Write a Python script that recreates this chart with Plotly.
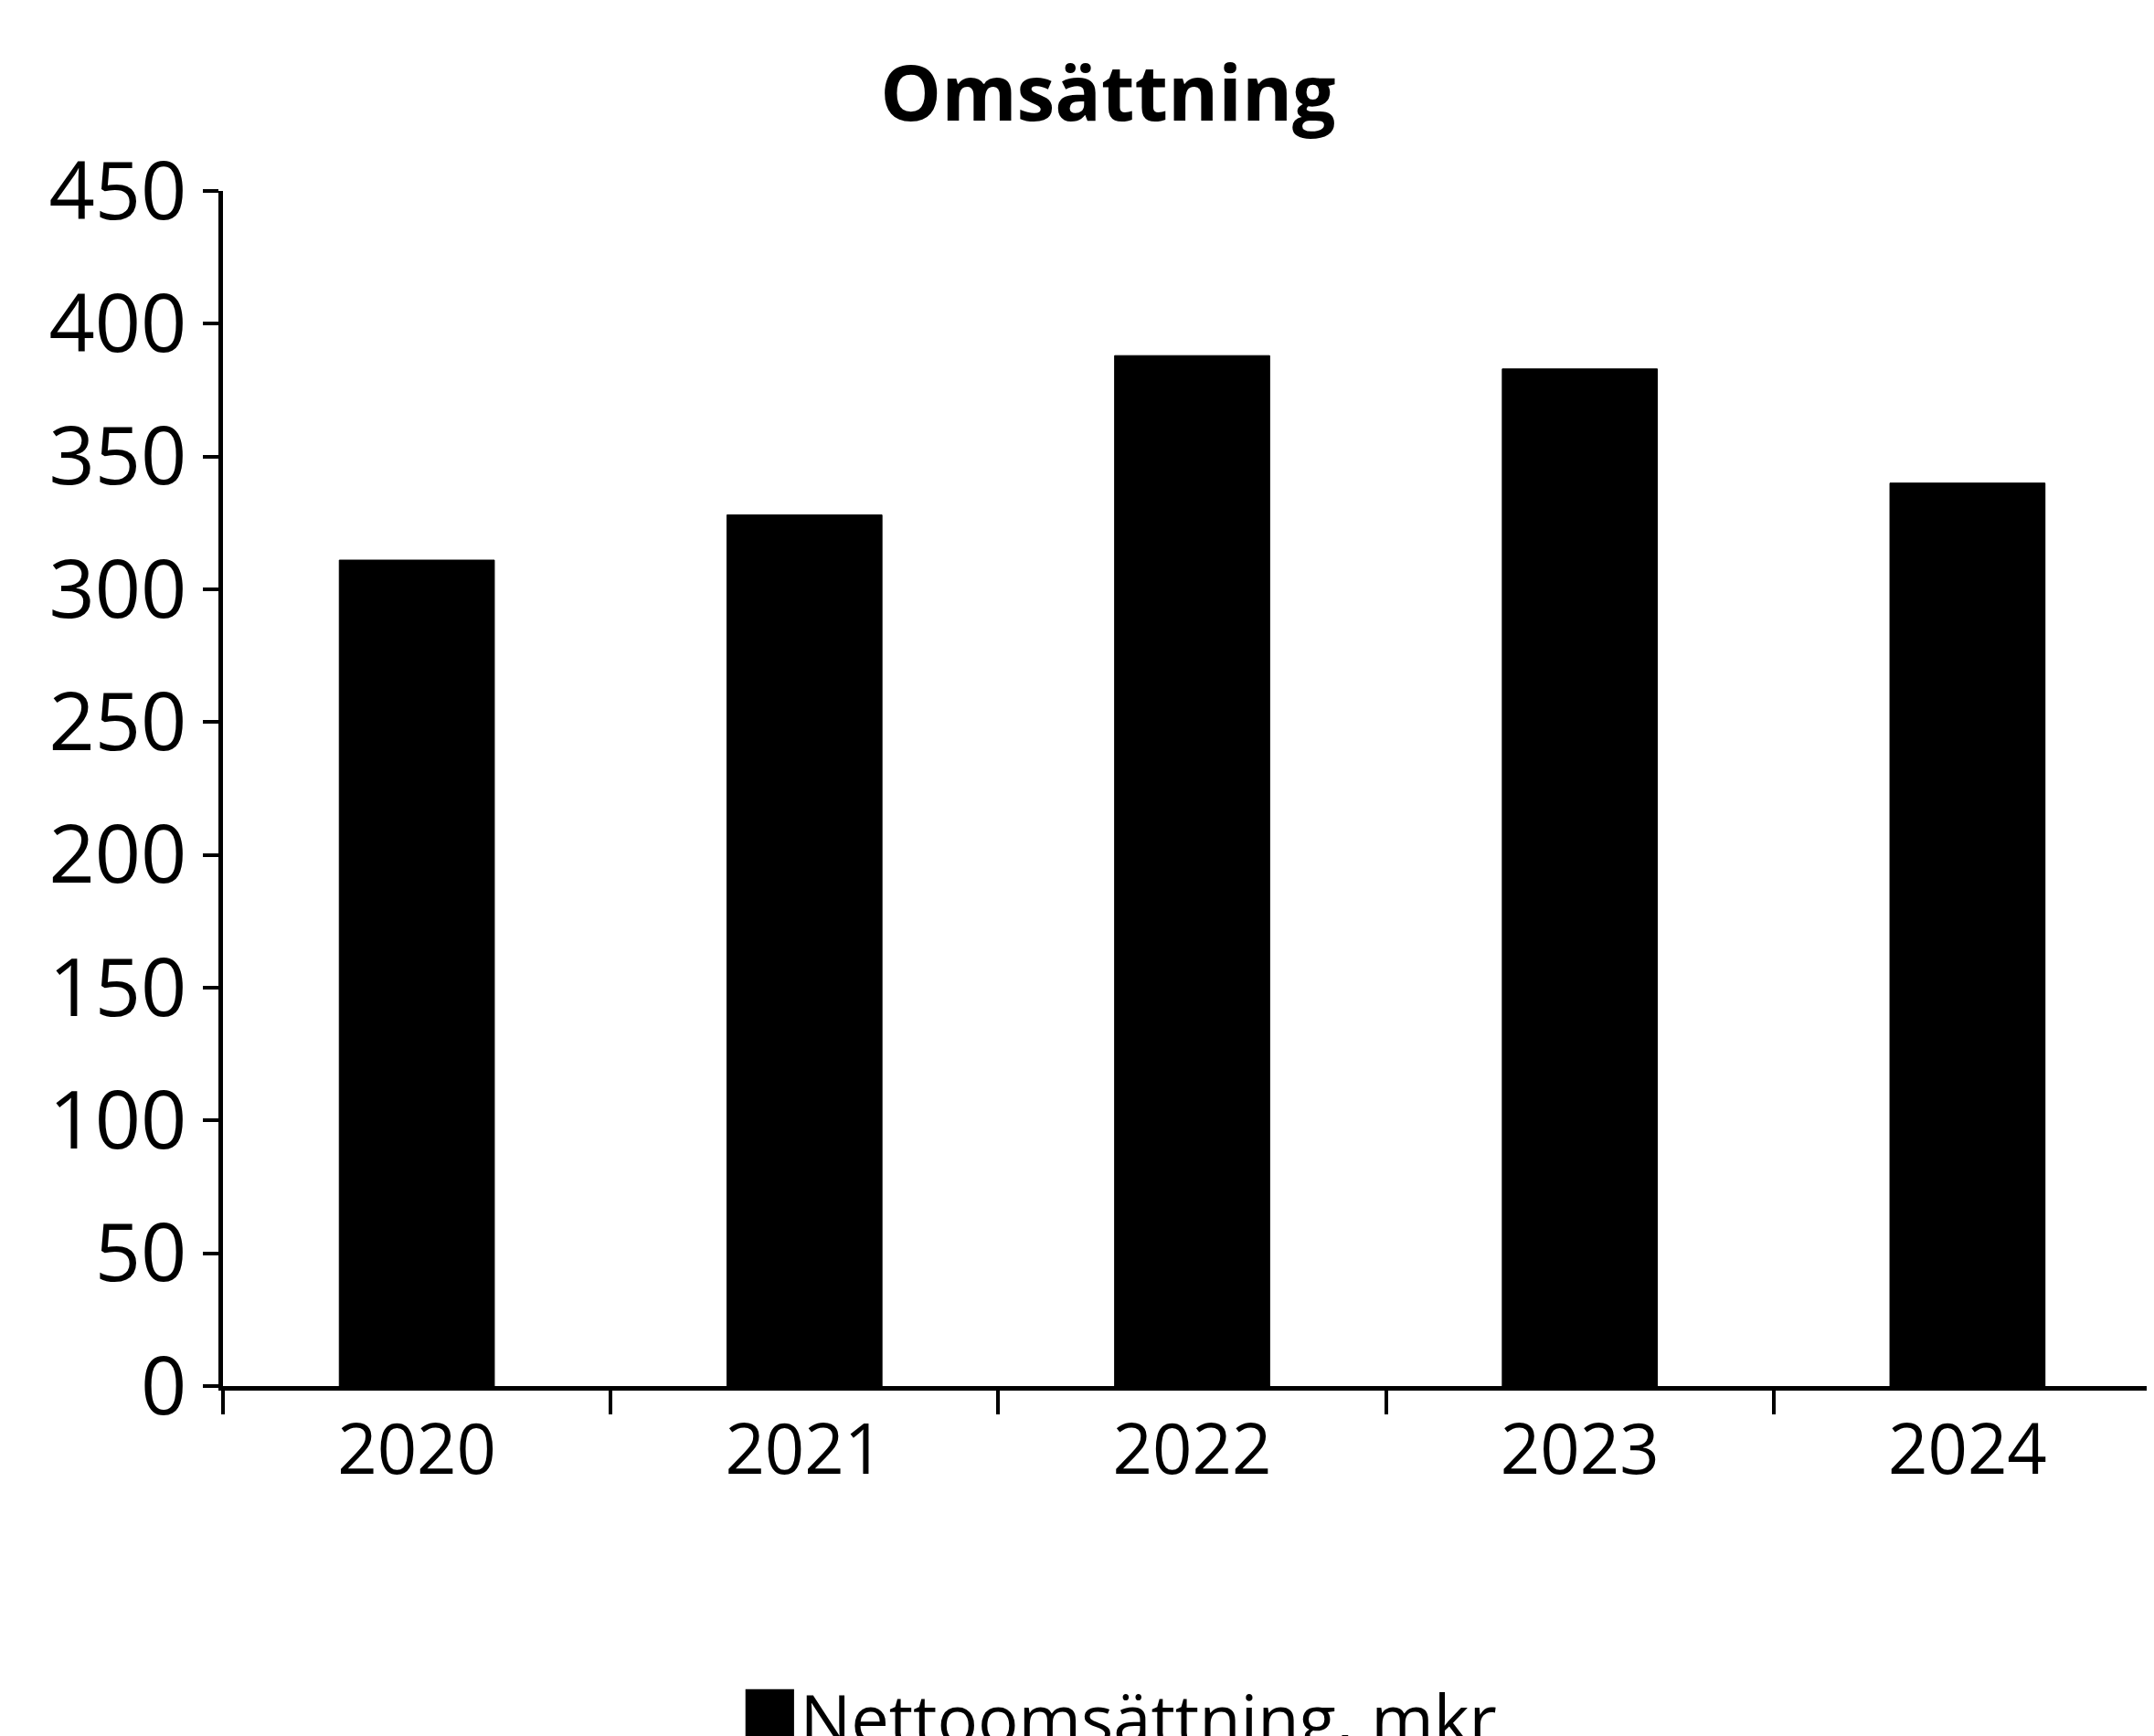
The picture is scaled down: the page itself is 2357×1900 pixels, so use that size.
import plotly.graph_objects as go

years = ["2020", "2021", "2022", "2023", "2024"]
revenue = [311, 328, 388, 383, 340]
y_ticks = [0, 50, 100, 150, 200, 250, 300, 350, 400, 450]
series_name = "Nettoomsättning, mkr"
title_text = "Omsättning"

FONT = "Open Sans"

fig = go.Figure()
fig.add_trace(go.Bar(
    x=years, y=revenue, name=series_name,
    marker=dict(color="black", line=dict(color="black", width=1)),
    width=0.4, showlegend=False,
))

fig.update_layout(
    width=2357, height=1900,
    paper_bgcolor="white", plot_bgcolor="white",
    margin=dict(l=236, r=0, t=201, b=391),
    title=dict(text="<b>" + title_text + "</b>", x=0.511, xref="container",
               y=0.95, yanchor="middle", xanchor="center",
               font=dict(family=FONT, size=84, color="black")),
    font=dict(family=FONT, size=76, color="black"),
    annotations=[dict(
        text="<span style='font-size:110px'>■</span>" + series_name,
        xref="paper", yref="paper",
        x=0.462, y=-0.266, xanchor="center", yanchor="middle",
        showarrow=False, font=dict(family=FONT, size=74, color="black"),
    )],
)

fig.update_xaxes(
    type="category", showline=True, linecolor="black", linewidth=5,
    ticks="outside", ticklen=26, tickwidth=4, tickcolor="black",
    tickson="boundaries", showgrid=False, zeroline=False,
    tickfont=dict(family=FONT, size=76, color="black"),
)
fig.update_yaxes(
    range=[0, 450], tickvals=y_ticks, showline=True, linecolor="black", linewidth=5,
    ticks="outside", ticklen=17, tickwidth=4, tickcolor="black",
    showgrid=False, zeroline=False,
    tickfont=dict(family=FONT, size=88, color="black"),
)

fig.write_html("out.html")
